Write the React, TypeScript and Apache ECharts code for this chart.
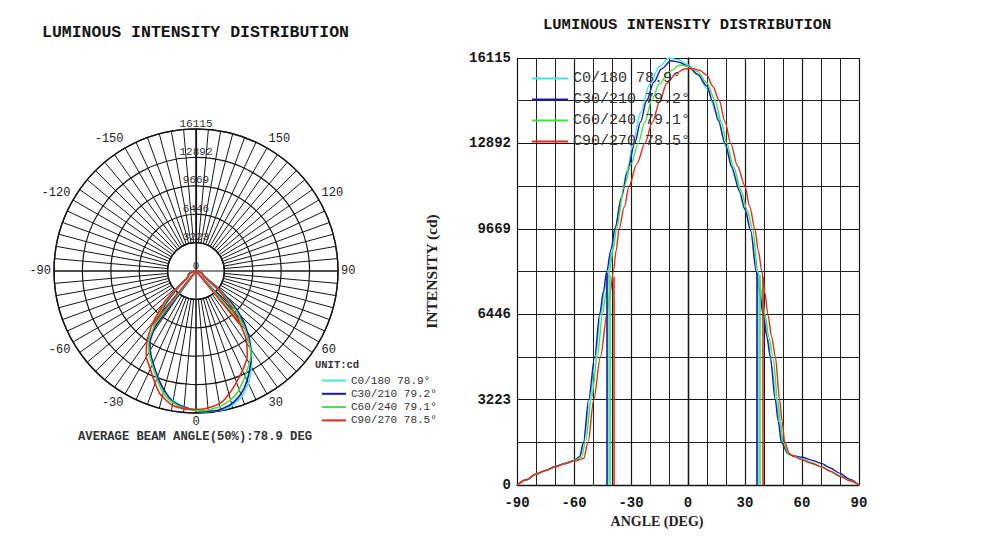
import React, { useEffect, useRef } from 'react';
import * as echarts from 'echarts';

// ---------------- data ----------------
const SERIES_NAMES = ['C0/180', 'C30/210', 'C60/240', 'C90/270'];
const BEAM_ANGLES = [78.9, 79.2, 79.1, 78.5];
const COLORS = ['#40e4ea', '#1a1ab0', '#44e044', '#e42a1e'];

const INTENSITY_MAX = 16115;
const INTENSITY_STEP = 3223;
const POLAR_ANGLE_LABELS = [-150, -120, -90, -60, -30, 0, 30, 60, 90, 120, 150];

// [angle (deg), intensity (cd)]
const C0_180: [number, number][] = [
  [-90, 0], [-85, 200], [-80, 410], [-75, 550], [-70, 690], [-65, 810], [-60, 930], [-57, 1070],
  [-55, 1600], [-52, 3000], [-49, 4600], [-46, 6400], [-44, 7350], [-42, 8100], [-40, 8850],
  [-38, 9800], [-35, 10900], [-32, 11900], [-29, 12900], [-25, 14050], [-20, 15150], [-15, 15800],
  [-10, 16115], [-5, 16050], [0, 15850], [5, 15500], [10, 14950], [15, 14050], [20, 12750],
  [25, 11600], [30, 10400], [33, 9600], [36, 8250], [38, 7300], [40, 6400], [42, 5500], [44, 4500],
  [46, 3450], [48, 2450], [50, 1500], [53, 1150], [60, 970], [70, 690], [80, 340], [90, 0],
];
const C30_210: [number, number][] = [
  [-90, 0], [-85, 200], [-80, 415], [-75, 550], [-70, 690], [-65, 810], [-60, 930], [-57, 1070],
  [-55, 1611], [-52.3, 3223], [-49.1, 4834], [-46.5, 6446], [-44.5, 7300], [-42.8, 8057],
  [-40.5, 8900], [-38.5, 9669], [-35, 10850], [-32, 11800], [-28, 12892], [-25, 13700],
  [-21.8, 14504], [-18, 15200], [-14, 15700], [-9, 16010], [-5, 15960], [0, 15810], [5, 15500],
  [10, 15060], [12.8, 14504], [16, 13750], [19.5, 12892], [23, 12000], [27, 11100], [30, 10400],
  [33, 9600], [35.9, 8057], [37.7, 7250], [39.5, 6446], [41.5, 5600], [43.3, 4834], [45.9, 3223],
  [47.5, 2400], [49.1, 1611], [52.5, 1200], [56, 1100], [60, 1045], [65, 940], [70, 818],
  [75, 640], [80, 440], [85, 220], [90, 0],
];
const C60_240: [number, number][] = [
  [-90, 0], [-85, 200], [-80, 415], [-75, 550], [-70, 690], [-65, 810], [-60, 920], [-56, 1060],
  [-54, 1611], [-50.9, 3223], [-47.7, 4834], [-45, 6446], [-43, 7300], [-41.3, 8057],
  [-39.5, 8850], [-37.6, 9669], [-33.6, 11281], [-30, 12100], [-26.2, 12892], [-22.7, 13700],
  [-19.2, 14504], [-15, 15150], [-10, 15600], [-4, 15850], [0, 15800], [5, 15600], [10, 15160],
  [14.3, 14504], [17.5, 13700], [20.4, 12892], [24, 12000], [28, 11100], [31, 10400], [34, 9669],
  [36.8, 8057], [38.8, 7250], [40.5, 6446], [42.5, 5600], [44.7, 4834], [47.2, 3223],
  [48.7, 2400], [50, 1611], [53, 1170], [56, 1080], [60, 970], [65, 840], [70, 690], [75, 520],
  [80, 340], [85, 170], [90, 0],
];
const C90_270: [number, number][] = [
  [-90, 0], [-85, 200], [-80, 410], [-75, 550], [-70, 690], [-65, 800], [-60, 900], [-54.9, 1006],
  [-52.6, 1611], [-49.6, 3223], [-46.1, 4834], [-42.6, 6446], [-41, 7250], [-39.3, 8057],
  [-37.8, 8850], [-36.3, 9669], [-33.5, 10500], [-31, 11281], [-27, 12100], [-22.7, 12892],
  [-18.7, 13700], [-14.8, 14504], [-11.2, 15160], [-6, 15550], [-2, 15700], [2.5, 15720],
  [6, 15650], [10, 15470], [13, 15050], [16.5, 14504], [19.5, 13700], [22.5, 12892], [26, 12050],
  [30, 11281], [32.5, 10500], [35.2, 9669], [37, 8850], [38.9, 8057], [40.5, 7250], [42, 6446],
  [44, 5600], [46, 4834], [48.2, 3223], [49.6, 2400], [50.9, 1611], [53.5, 1150], [56, 1070],
  [60, 950], [65, 820], [70, 690], [75, 520], [80, 330], [85, 160], [90, 0],
];
const SERIES_DATA = [C0_180, C30_210, C60_240, C90_270];

// beam (50%) edges, degrees
const BEAM_LEFT = [-42.4, -42.8, -41.4, -39.3];
const BEAM_RIGHT = [36.5, 36.4, 37.7, 39.2];

// ---------------- chart ----------------
const MONO = '"Liberation Mono", "DejaVu Sans Mono", monospace';
const SERIF = '"Liberation Serif", "DejaVu Serif", serif';
const INK = '#161616';
const plain = (v: number) => String(v);

export default function App() {
  const ref = useRef<HTMLDivElement>(null);

  useEffect(() => {
    if (!ref.current) return;
    const chart = echarts.init(ref.current, undefined, { renderer: 'svg' });

    const labels = SERIES_NAMES.map((n, i) => `${n} ${BEAM_ANGLES[i].toFixed(1)}°`);
    const avgBeam = BEAM_ANGLES.reduce((a, b) => a + b, 0) / BEAM_ANGLES.length;

    const series: any[] = [];
    SERIES_DATA.forEach((d, i) => {
      const peak = Math.max(...d.map((p) => p[1]));
      const half = peak / 2;
      // cartesian curve
      series.push({
        type: 'line',
        name: labels[i],
        xAxisIndex: 0,
        yAxisIndex: 0,
        data: d,
        showSymbol: false,
        smooth: 0.3,
        smoothMonotone: 'x',
        color: COLORS[i],
        lineStyle: { color: COLORS[i], width: 1.4 },
        z: 3,
        markLine: {
          silent: true,
          symbol: 'none',
          label: { show: false },
          lineStyle: { color: COLORS[i], width: 1.6, type: 'solid' },
          data: [
            [{ coord: [BEAM_LEFT[i], 0] }, { coord: [BEAM_LEFT[i], half] }],
            [{ coord: [BEAM_RIGHT[i], 0] }, { coord: [BEAM_RIGHT[i], half] }],
          ],
        },
      });
      // polar curve (drawn mirrored, as in the reference)
      series.push({
        type: 'line',
        name: labels[i],
        coordinateSystem: 'polar',
        polarIndex: 0,
        data: d.map(([a, v]) => [v, -a]),
        showSymbol: false,
        smooth: 0.15,
        color: COLORS[i],
        lineStyle: { color: COLORS[i], width: 1.6 },
        z: 3,
      });
      series.push({
        type: 'line',
        name: labels[i],
        coordinateSystem: 'polar',
        polarIndex: 0,
        data: [[half, -BEAM_LEFT[i]], [0, -BEAM_LEFT[i]], [0, -BEAM_RIGHT[i]], [half, -BEAM_RIGHT[i]]],
        showSymbol: false,
        color: COLORS[i],
        lineStyle: { color: COLORS[i], width: 1.6 },
        z: 3,
      });
    });

    const option: any = {
      animation: false,
      backgroundColor: '#ffffff',
      title: [
        {
          text: 'LUMINOUS INTENSITY DISTRIBUTION',
          left: 42, top: 24, padding: 0,
          textStyle: { fontFamily: MONO, fontWeight: 'bold', fontSize: 16.5, color: INK },
        },
        {
          text: 'LUMINOUS INTENSITY DISTRIBUTION',
          left: 543, top: 17, padding: 0,
          textStyle: { fontFamily: MONO, fontWeight: 'bold', fontSize: 15.5, color: INK },
        },
        {
          text: `AVERAGE BEAM ANGLE(50%):${avgBeam.toFixed(1)} DEG`,
          left: 78, top: 431, padding: 0,
          textStyle: { fontFamily: MONO, fontWeight: 'bold', fontSize: 12.2, color: '#333' },
        },
        {
          text: 'UNIT:cd',
          left: 315, top: 359, padding: 0,
          textStyle: { fontFamily: MONO, fontWeight: 'bold', fontSize: 10.5, color: '#333' },
        },
      ],
      legend: [
        {
          data: labels,
          left: 527, top: 66,
          orient: 'vertical',
          icon: 'rect',
          itemWidth: 36, itemHeight: 2, itemGap: 6,
          selectedMode: false,
          textStyle: { fontFamily: MONO, fontSize: 15, color: '#333' },
        },
        {
          data: labels,
          left: 317, top: 370,
          orient: 'vertical',
          icon: 'rect',
          itemWidth: 24, itemHeight: 2, itemGap: 2.3,
          selectedMode: false,
          textStyle: { fontFamily: MONO, fontSize: 11, color: '#333' },
        },
      ],
      polar: [
        { center: [196, 271], radius: [0, 142] },
        { center: [196, 271], radius: [142 / 5, 142] },
      ],
      angleAxis: [
        {
          polarIndex: 0, type: 'value', min: -180, max: 180, interval: 90,
          startAngle: 90, clockwise: false,
          axisLine: { show: false }, axisTick: { show: false }, axisLabel: { show: false },
          splitLine: { show: true, lineStyle: { color: INK, width: 1.2 } },
        },
        {
          polarIndex: 1, type: 'value', min: -180, max: 180, interval: 5,
          startAngle: 90, clockwise: false,
          axisLine: { show: true, lineStyle: { color: INK, width: 1.4 } },
          axisTick: { show: false },
          axisLabel: {
            show: true, margin: 3,
            fontFamily: MONO, fontSize: 12, color: '#222',
            formatter: (v: number) => (POLAR_ANGLE_LABELS.includes(v) ? String(v) : ''),
          },
          splitLine: { show: true, lineStyle: { color: INK, width: 1 } },
        },
      ],
      radiusAxis: [
        {
          polarIndex: 0, type: 'value', min: 0, max: INTENSITY_MAX, interval: INTENSITY_STEP,
          axisLine: { show: true, lineStyle: { color: INK, width: 1.2 } },
          axisTick: { show: false },
          axisLabel: {
            show: true, margin: 0, align: 'center', verticalAlign: 'bottom',
            fontFamily: MONO, fontSize: 11, color: '#333', formatter: plain,
          },
          splitLine: { show: true, lineStyle: { color: INK, width: 1.2 } },
          z: 2,
        },
        { polarIndex: 1, type: 'value', min: 0, max: 1, show: false },
      ],
      grid: { left: 517, right: 143, top: 58, bottom: 64 },
      xAxis: {
        type: 'value', min: -90, max: 90, interval: 30,
        axisLine: { show: true, onZero: false, lineStyle: { color: INK, width: 1.4 } },
        axisTick: { show: false },
        axisLabel: { fontFamily: MONO, fontWeight: 'bold', fontSize: 14, color: INK, margin: 11, formatter: plain },
        splitLine: { show: true, lineStyle: { color: INK, width: 1.2 } },
        minorTick: { show: false, splitNumber: 3 },
        minorSplitLine: { show: true, lineStyle: { color: '#222', width: 1 } },
        name: 'ANGLE (DEG)', nameLocation: 'middle', nameGap: 28,
        nameTextStyle: {
          fontFamily: SERIF, fontWeight: 'bold', fontSize: 14, color: '#222',
          padding: [0, 62, 0, 0],
        },
      },
      yAxis: {
        type: 'value', min: 0, max: INTENSITY_MAX, interval: INTENSITY_STEP,
        axisLine: { show: true, lineStyle: { color: INK, width: 1.4 } },
        axisTick: { show: false },
        axisLabel: { fontFamily: MONO, fontWeight: 'bold', fontSize: 14, color: INK, margin: 6, formatter: plain },
        splitLine: { show: true, lineStyle: { color: INK, width: 1.2 } },
        minorTick: { show: false, splitNumber: 2 },
        minorSplitLine: { show: true, lineStyle: { color: '#222', width: 1 } },
        name: 'INTENSITY (cd)', nameLocation: 'middle', nameGap: 78,
        nameTextStyle: { fontFamily: SERIF, fontWeight: 'bold', fontSize: 15.5, color: '#222' },
      },
      series,
    };

    chart.setOption(option);
    return () => chart.dispose();
  }, []);

  return (
    <div
      ref={ref}
      style={{ position: 'absolute', left: 0, top: 0, width: 1002, height: 549, background: '#fff' }}
    />
  );
}
